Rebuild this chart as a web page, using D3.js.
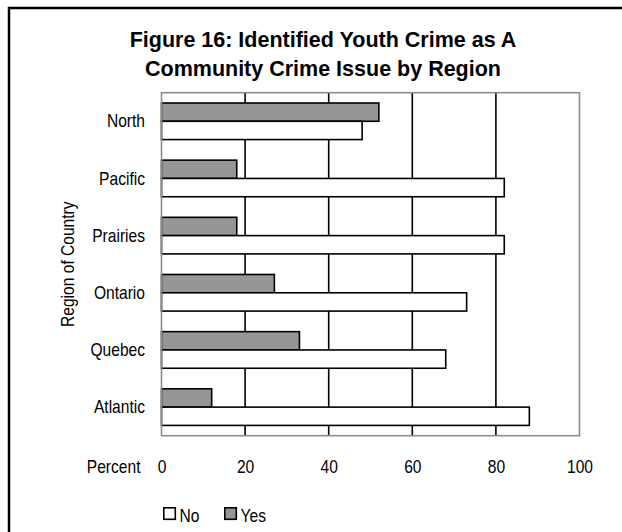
<!DOCTYPE html>
<html>
<head>
<meta charset="utf-8">
<script src="https://cdn.jsdelivr.net/npm/d3@7"></script>
<style>
  html, body { margin: 0; padding: 0; background: #fff; }
  svg { display: block; }
  .lbl { font-family: "Liberation Sans", Arial, sans-serif; font-size: 19px; fill: #000; }
  .title { font-family: "Liberation Sans", Arial, sans-serif; font-size: 21.5px; font-weight: bold; fill: #000; }
</style>
</head>
<body>
<script>
// Regions, top to bottom
const regions = ["North", "Pacific", "Prairies", "Ontario", "Quebec", "Atlantic"];
// Percent answering Yes / No per region
const yesValues = [52, 18, 18, 27, 33, 12];
const noValues  = [48, 82, 82, 73, 68, 88];
const seriesNames = ["Yes", "No"];
const legendNames = ["No", "Yes"];
const xTicks = [0, 20, 40, 60, 80, 100];
const titleLines = ["Figure 16: Identified Youth Crime as A", "Community Crime Issue by Region"];

const W = 622, H = 532;
const plot = { left: 161.5, right: 579.5, top: 92.7, bottom: 435.7 };
const colors = { Yes: "#969696", No: "#ffffff" };

const svg = d3.select("body").append("svg").attr("width", W).attr("height", H);

// Outer frame of the chart area
svg.append("rect")
  .attr("x", 9).attr("y", 8).attr("width", 700).attr("height", 600)
  .attr("fill", "#fff").attr("stroke", "#000").attr("stroke-width", 2.5);

// Title
svg.append("text").attr("class", "title")
  .attr("text-anchor", "middle")
  .selectAll("tspan").data(titleLines).join("tspan")
  .attr("x", 323).attr("y", (d, i) => 46.5 + i * 29.5)
  .text(d => d);

const x = d3.scaleLinear().domain([0, 100]).range([plot.left, plot.right]);
const y = d3.scaleBand().domain(regions).range([plot.top, plot.bottom])
  .paddingInner(0.36).paddingOuter(0.18);
const ySub = d3.scaleBand().domain(seriesNames).range([0, y.bandwidth()]);

const rows = regions.map((r, i) => ({ region: r, Yes: yesValues[i], No: noValues[i] }));

// Vertical gridlines
svg.append("g").selectAll("line").data(xTicks.filter(t => t > 0 && t < 100)).join("line")
  .attr("x1", d => x(d)).attr("x2", d => x(d))
  .attr("y1", plot.top).attr("y2", plot.bottom)
  .attr("stroke", "#000").attr("stroke-width", 1.6);

// Bars
const groups = svg.append("g").selectAll("g").data(rows).join("g")
  .attr("transform", d => `translate(0,${y(d.region)})`);
groups.selectAll("rect").data(d => seriesNames.map(s => ({ s, v: d[s] }))).join("rect")
  .attr("x", x(0))
  .attr("y", d => ySub(d.s))
  .attr("width", d => x(d.v) - x(0))
  .attr("height", ySub.bandwidth())
  .attr("fill", d => colors[d.s])
  .attr("stroke", "#000").attr("stroke-width", 1.6);

// Plot border
svg.append("rect")
  .attr("x", plot.left).attr("y", plot.top)
  .attr("width", plot.right - plot.left).attr("height", plot.bottom - plot.top)
  .attr("fill", "none").attr("stroke", "#8c8c8c").attr("stroke-width", 1.6);

// X axis labels
const xAxis = svg.append("g").attr("transform", `translate(0,${plot.bottom})`)
  .call(d3.axisBottom(x).tickValues(xTicks).tickSize(0).tickPadding(24).tickFormat(d3.format("d")));
xAxis.select(".domain").remove();
xAxis.selectAll("text").attr("class", "lbl");
xAxis.attr("font-size", null).attr("font-family", null);

svg.append("text").attr("class", "lbl")
  .attr("x", 140.5).attr("y", 473.3).attr("text-anchor", "end").text("Percent");

// Y axis labels
const yAxis = svg.append("g").attr("transform", `translate(${plot.left},0)`)
  .call(d3.axisLeft(y).tickSize(0).tickPadding(16.5));
yAxis.select(".domain").remove();
yAxis.selectAll("text").attr("class", "lbl");
yAxis.attr("font-size", null).attr("font-family", null);

svg.append("text").attr("class", "lbl")
  .attr("transform", `translate(74,${(plot.top + plot.bottom) / 2}) rotate(-90)`)
  .attr("text-anchor", "middle").text("Region of Country");

// Legend
const legend = svg.append("g").attr("transform", "translate(163,507)");
const legX = [0, 61];
legend.selectAll("g").data(legendNames).join("g")
  .attr("transform", (d, i) => `translate(${legX[i]},0)`)
  .each(function (d) {
    const g = d3.select(this);
    g.append("rect").attr("x", 0.8).attr("y", 0.8).attr("width", 11.5).attr("height", 11.5)
      .attr("fill", colors[d]).attr("stroke", "#000").attr("stroke-width", 1.6);
    g.append("text").attr("class", "lbl").attr("x", 16.5).attr("y", 14.5).text(d);
  });

// Condensed label face: squeeze the regular sans to a narrow width
svg.selectAll("text.lbl").each(function () {
  const w = this.getComputedTextLength();
  d3.select(this).attr("textLength", w * 0.82).attr("lengthAdjust", "spacingAndGlyphs");
});
</script>
</body>
</html>
